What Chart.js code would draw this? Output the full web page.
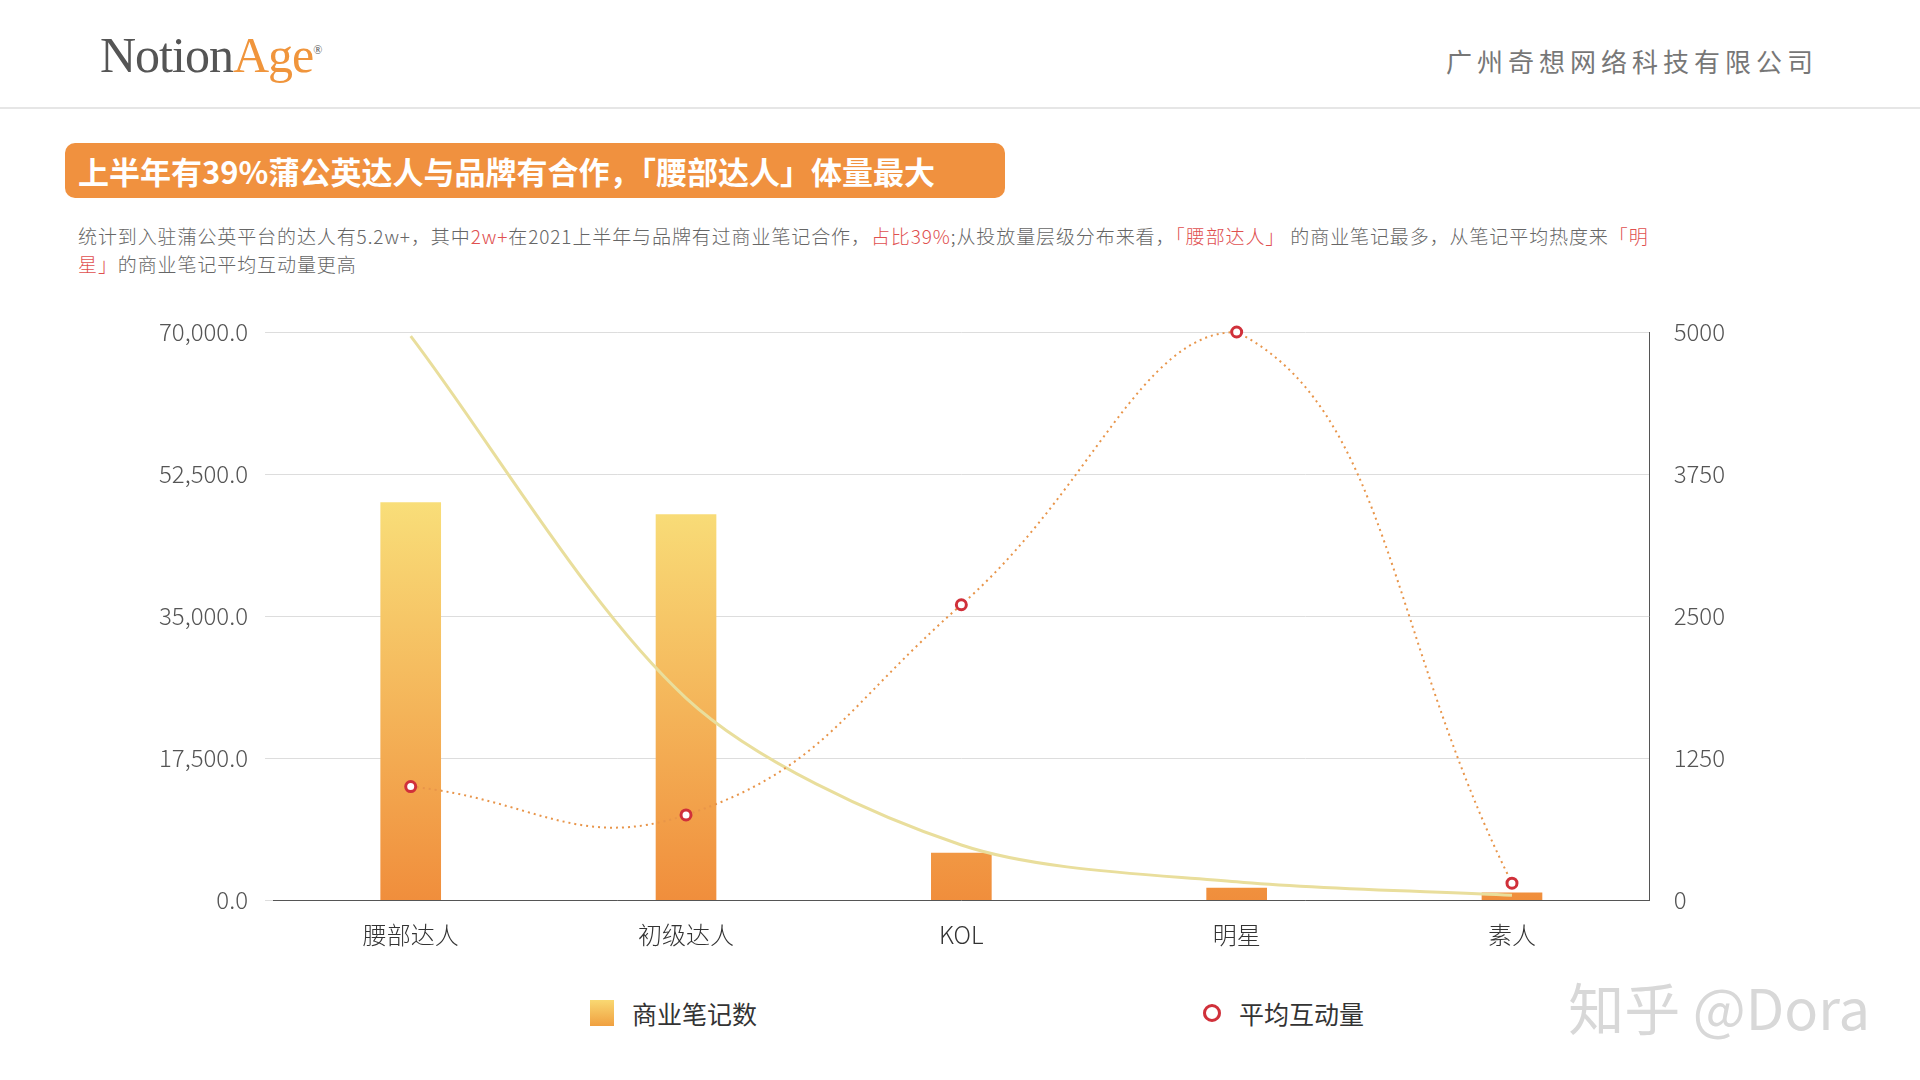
<!DOCTYPE html>
<html><head><meta charset="utf-8">
<script src="https://cdn.jsdelivr.net/npm/chart.js@4"></script>
<style>
body{margin:0;width:1920px;height:1080px;background:#fff;font-family:"Noto Sans CJK SC","Noto Sans",sans-serif;position:relative;overflow:hidden}
.abs{position:absolute}
#logo{left:100px;top:26px;font-family:"Liberation Serif",serif;font-size:50px;color:#555;letter-spacing:-1px}
#logo span{color:#f0953c}
#comp{right:102px;top:42px;font-size:26px;color:#777;letter-spacing:5px}
#rule{left:0;top:107px;width:1920px;height:2px;background:#e6e6e6}
#banner{left:65px;top:143px;width:940px;height:55px;background:#f0913f;border-radius:10px;color:#fff;font-size:31px;font-weight:bold;line-height:55px;padding-left:13px;box-sizing:border-box}
#desc{left:78px;top:222px;width:1600px;font-size:19px;letter-spacing:0.9px;color:#666;line-height:28px;font-weight:300}
#desc em{font-style:normal;color:#e05050}
#wrap{left:100px;top:288px;width:1760px;height:673px}
#legend{left:0;top:995px;width:1920px;font-size:25px;color:#333}
.li{position:absolute;top:0;display:flex;align-items:center}
#wm{right:50px;top:965px;font-size:56px;color:#d8d8d8}
</style></head><body>
<div id="logo" class="abs">Notion<span>Age</span><sup style="font-size:12px">®</sup></div>
<div id="comp" class="abs">广州奇想网络科技有限公司</div>
<div id="rule" class="abs"></div>
<div id="banner" class="abs">上半年有39%蒲公英达人与品牌有合作，「腰部达人」体量最大</div>
<div id="desc" class="abs">统计到入驻蒲公英平台的达人有5.2w+，其中<em>2w+</em>在2021上半年与品牌有过商业笔记合作，<em>占比39%</em>;从投放量层级分布来看，<em>「腰部达人」</em> 的商业笔记最多，从笔记平均热度来<em>「明星」</em>的商业笔记平均互动量更高</div>
<div id="wrap" class="abs"><canvas id="c"></canvas></div>
<div id="legend" class="abs">
 <div class="li" style="left:590px"><span style="display:inline-block;width:24px;height:26px;background:linear-gradient(#f9d872,#f0a040);margin-right:18px"></span>商业笔记数</div>
 <div class="li" style="left:1203px"><span style="display:inline-block;width:12px;height:12px;border:3px solid #d0303a;border-radius:50%;margin-right:18px"></span>平均互动量</div>
</div>
<div id="wm" class="abs">知乎 @Dora</div>
<script>
const categories=["腰部达人","初级达人","KOL","明星","素人"];
const noteCounts=[49000,47500,5800,1500,900];
const avgInteract=[1000,750,2600,5000,150];
const trendValues=[69500,24900,6800,2260,600];
const leftTicks=[0,17500,35000,52500,70000];
const rightTicks=[0,1250,2500,3750,5000];
const tickFont={size:24,family:"Noto Sans CJK SC",weight:300};
new Chart(document.getElementById('c'),{
 data:{labels:categories,datasets:[
  {type:'line',data:avgInteract,yAxisID:'y1',borderColor:'#e8954a',borderWidth:2,borderDash:[2,4],tension:0.45,clip:false,
   pointRadius:5,pointBorderWidth:3,pointBorderColor:'#d0303a',pointBackgroundColor:'#fff',order:0},
  {type:'line',data:trendValues,yAxisID:'y',borderColor:'#e9de9c',borderWidth:3,tension:0.3,pointRadius:0,order:1},
  {type:'bar',data:noteCounts,yAxisID:'y',barThickness:60,order:2,
   backgroundColor:(ctx)=>{const a=ctx.chart.chartArea;if(!a)return '#f5b050';const g=ctx.chart.ctx.createLinearGradient(0,a.top+150,0,a.bottom);g.addColorStop(0,'#f9e27c');g.addColorStop(1,'#f08e3c');return g;}}
 ]},
 options:{responsive:true,maintainAspectRatio:false,animation:false,
  layout:{padding:{top:44,right:119,left:42}},
  plugins:{legend:{display:false},tooltip:{enabled:false}},
  scales:{
   x:{grid:{display:false},border:{color:'#555'},ticks:{color:'#333',font:tickFont,padding:12}},
   y:{min:0,max:70000,afterBuildTicks:a=>{a.ticks=leftTicks.map(v=>({value:v}))},
      grid:{color:'#ddd'},border:{display:false},
      ticks:{color:'#555',font:tickFont,padding:17,callback:v=>v.toLocaleString('en-US',{minimumFractionDigits:1,maximumFractionDigits:1})}},
   y1:{position:'right',min:0,max:5000,afterBuildTicks:a=>{a.ticks=rightTicks.map(v=>({value:v}))},
      grid:{display:false},border:{color:'#555'},ticks:{color:'#555',font:tickFont,padding:16,callback:v=>String(v)}}
  }}
});
</script></body></html>
